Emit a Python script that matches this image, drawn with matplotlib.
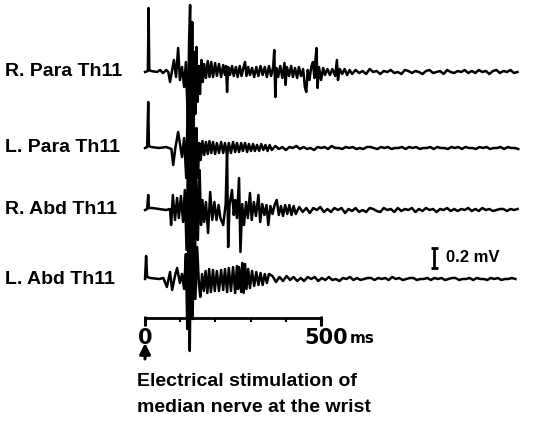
import numpy as np
import matplotlib
matplotlib.use('Agg')
import matplotlib.pyplot as plt

plt.rcParams['font.family'] = ['Liberation Sans', 'DejaVu Sans']

# ---------------- data (time in ms, amplitude in mV relative to baseline) -------------
labels = ['R. Para Th11', 'L. Para Th11', 'R. Abd Th11', 'L. Abd Th11']
baselines = [3.53, 2.77, 2.15, 1.46]   # vertical offsets of the traces (mV)

rp_t = [0, 8, 10, 12, 17, 34, 43, 51, 60, 66, 71, 77, 82, 88, 94, 99, 105, 111, 116, 122,
        125, 128, 131, 134, 137, 140, 143, 146, 149, 153, 156, 160, 164, 168, 173, 178, 183,
        188, 193, 199, 204, 210, 216, 222, 227, 230, 233, 236, 241, 247, 252, 258, 263, 269,
        274, 280, 284, 288, 293, 298, 304, 310, 316, 322, 328, 334, 340, 346, 352, 358, 364,
        367, 370, 373, 378, 384, 390, 396, 399, 403, 409, 415, 420, 426, 432, 437, 443, 449,
        454, 458, 462, 467, 472, 477, 481, 484, 487, 490, 494, 500, 506, 511, 518, 525, 532,
        540, 545, 548, 553, 560, 567, 574, 581, 588]
rp_v = [0.00, 0.01, 0.64, 0.02, 0.01, 0.00, 0.02, -0.01, 0.02, 0.00, -0.10, 0.02, 0.12, -0.05,
        0.24, -0.08, 0.05, -0.15, 0.10, -0.55, 0.30, 0.67, -0.45, 0.50, -0.58, 0.20, -0.42,
        0.25, -0.30, 0.06, -0.22, 0.12, -0.10, 0.08, -0.06, 0.11, -0.05, 0.10, -0.05, 0.09,
        -0.04, 0.08, -0.05, 0.07, -0.03, 0.06, -0.20, 0.05, -0.03, 0.06, -0.04, 0.05, -0.05,
        0.06, -0.04, 0.05, 0.10, -0.04, 0.05, -0.03, 0.04, -0.05, 0.05, -0.04, 0.06, -0.03,
        0.05, -0.05, 0.06, -0.04, 0.05, 0.22, -0.25, 0.04, -0.05, 0.06, -0.06, 0.09, -0.13,
        0.05, -0.04, 0.06, -0.05, 0.04, -0.06, 0.05, -0.04, 0.03, -0.15, -0.20, 0.02, -0.08,
        0.05, 0.10, -0.06, 0.12, 0.24, -0.16, 0.05, -0.08, 0.04, -0.03, 0.03, -0.03, 0.03,
        -0.04, 0.12, -0.08, 0.03, -0.02, 0.03, -0.03, 0.02, -0.02]
rp_tail = [0.02, -0.01, 0.01, -0.02, 0.03, 0.00, 0.01, -0.02, 0.01, 0.00,
           0.02, -0.01, 0.00, -0.02, 0.02, 0.01, -0.01, 0.01, 0.00, -0.02,
           0.01, 0.02, -0.01, 0.00, 0.01, -0.02, 0.02, 0.00, -0.01, 0.01,
           0.00, 0.02, -0.01, 0.01, -0.01, 0.02, 0.00, 0.01, -0.02, 0.01,
           0.02, -0.01, 0.01, 0.00, 0.02, -0.01, 0.00]

lp_t = [0, 6, 9, 11, 17, 40, 60, 75, 80, 86, 94, 100, 105, 111, 117, 122, 126, 130, 134, 138,
        142, 146, 150, 154, 158, 163, 168, 173, 178, 183, 188, 193, 199, 204, 210, 216, 222,
        227, 233, 238, 244, 250, 256, 261, 267, 273, 278, 284, 290, 295, 301, 307, 312, 318,
        324, 330, 336, 342, 348, 354, 360]
lp_v = [0.00, 0.01, 0.46, 0.02, 0.01, 0.00, 0.01, -0.01, -0.17, 0.00, 0.16, 0.02, -0.09, 0.10,
        -0.30, 0.55, -0.70, 0.60, -0.55, 0.35, -0.50, 0.20, -0.30, 0.05, -0.12, 0.07, -0.07,
        0.06, -0.06, 0.07, -0.05, 0.06, -0.06, 0.05, -0.05, 0.06, -0.05, 0.05, -0.06, 0.05,
        -0.05, 0.06, -0.04, 0.05, -0.04, 0.05, -0.03, 0.05, -0.04, 0.04, -0.03, 0.04, -0.03,
        0.03, -0.03, 0.04, -0.02, 0.03, -0.03, 0.03, -0.02]
lp_tail = [0.02, -0.01, 0.01, -0.02, 0.01, 0.00, 0.02, -0.01, 0.01, -0.01,
           0.00, -0.02, 0.01, 0.00, 0.01, -0.01, 0.02, 0.00, 0.00, -0.01,
           0.01, 0.00, 0.01, -0.01, 0.00, -0.01, 0.01, 0.01, 0.00, -0.01,
           0.01, 0.00, 0.01, -0.01, 0.00, 0.00, 0.01, -0.01, 0.01, 0.00,
           0.01, -0.01, 0.00, 0.00, 0.01, -0.01, 0.01, 0.00, 0.00, -0.01,
           0.01, 0.00, 0.01, -0.01, 0.01, 0.00, 0.00, -0.01, 0.01, 0.00,
           0.01, -0.01, 0.00, 0.00, 0.01, -0.01, 0.01, 0.00, 0.00, -0.01]

ra_t = [0, 6, 9, 11, 20, 40, 60, 71, 74, 79, 85, 91, 96, 102, 108, 113, 118, 122, 126, 130,
        134, 138, 142, 146, 150, 155, 159, 163, 168, 173, 179, 185, 191, 197, 203, 209, 214,
        222, 229, 233, 236, 240, 247, 252, 256, 261, 267, 271, 276, 281, 287, 292, 298, 303,
        309, 315, 322, 327, 333, 339, 345, 350, 356, 362, 368, 374, 380, 386, 392, 398, 404,
        410, 416, 422, 428]
ra_v = [0.00, 0.01, 0.15, 0.02, 0.02, 0.01, 0.00, 0.01, -0.15, 0.15, -0.10, 0.12, -0.08, 0.14,
        -0.12, 0.20, -0.40, 0.55, -0.65, 0.75, -0.62, 0.50, -0.45, 0.30, -0.30, 0.40, -0.15,
        0.10, -0.12, 0.08, -0.23, 0.18, -0.10, 0.08, -0.10, 0.05, -0.08, -0.15, 0.06, 0.60,
        -0.37, 0.05, 0.20, -0.05, 0.10, -0.08, 0.32, -0.42, 0.06, -0.15, 0.08, -0.08, 0.17,
        -0.10, 0.08, -0.06, 0.15, -0.12, 0.06, -0.05, 0.05, -0.15, 0.04, -0.04, 0.05, 0.10,
        -0.05, 0.04, -0.06, 0.05, -0.04, 0.05, -0.05, 0.04, -0.04]
ra_tail = [0.03, -0.02, 0.02, -0.03, 0.02, 0.00, 0.03, -0.02, 0.01, -0.02,
           0.02, 0.00, 0.02, -0.03, 0.01, -0.01, 0.02, -0.02, 0.00, -0.02,
           0.02, 0.01, -0.01, -0.02, 0.02, 0.00, 0.01, -0.02, 0.02, -0.01,
           0.01, 0.00, 0.02, -0.02, 0.01, -0.01, 0.02, 0.00, 0.01, -0.02,
           0.01, 0.00, 0.02, -0.01, 0.01, -0.01, 0.01, 0.00, 0.02, -0.01,
           0.01, -0.01, 0.02, 0.00, 0.01, -0.01, 0.00, 0.01, 0.01, -0.01,
           0.01, 0.00, 0.01]

la_t = [0, 3, 6, 15, 40, 52, 62, 71, 77, 85, 91, 99, 105, 111, 116, 120, 124, 127, 131, 135,
        139, 143, 148, 153, 157, 162, 167, 172, 177, 182, 187, 193, 198, 204, 210, 216, 222,
        227, 233, 238, 244, 250, 256, 261, 264, 267, 273, 276, 280, 284, 288, 293, 298, 304,
        310, 316, 322, 328, 334, 340, 346, 352]
la_v = [0.00, 0.23, 0.02, 0.01, 0.00, 0.01, -0.08, 0.07, -0.11, 0.03, 0.11, -0.04, 0.05, -0.10,
        0.25, -0.50, 0.45, -0.72, 0.60, -0.40, 0.35, -0.20, 0.32, -0.05, -0.18, 0.05, -0.12,
        0.08, -0.14, 0.10, -0.13, 0.09, -0.12, 0.08, -0.12, 0.09, -0.11, 0.10, -0.13, 0.11,
        -0.12, 0.12, -0.14, 0.13, -0.10, 0.12, -0.13, 0.16, -0.14, 0.15, -0.10, 0.10, -0.09,
        0.08, -0.07, 0.07, -0.06, 0.06, -0.06, 0.05, -0.04, 0.05]
la_tail = [0.03, -0.03, 0.02, -0.02, 0.03, -0.01, 0.02, -0.02, 0.01, -0.02,
           0.02, 0.00, 0.02, -0.02, 0.01, -0.01, 0.02, -0.01, 0.00, -0.02,
           0.01, 0.00, 0.02, -0.01, 0.01, -0.01, 0.00, 0.01, 0.01, -0.01,
           0.01, 0.00, 0.01, -0.01, 0.02, 0.00, 0.01, -0.01, 0.00, 0.01,
           0.01, -0.01, 0.00, 0.00, 0.01, -0.01, 0.01, 0.00, 0.01, -0.01,
           0.00, 0.01, 0.01, -0.01, 0.00, 0.00, 0.01, -0.01, 0.01, 0.00,
           0.00, -0.01, 0.01, 0.00, 0.01, -0.01, 0.00, 0.00, 0.01, 0.00]

tail_step_ms = 10
time_ticks = [0, 100, 200, 300, 400, 500]
scale_mv = 0.2

# ---------------- figure -------------
fig = plt.figure(figsize=(5.39, 4.25), dpi=100)
ax = fig.add_axes([0, 0, 1, 1])
ax.set_xlim(-412, 1119)
ax.set_ylim(0, 4.25)
ax.axis('off')

traces = [(rp_t, rp_v, rp_tail), (lp_t, lp_v, lp_tail),
          (ra_t, ra_v, ra_tail), (la_t, la_v, la_tail)]

for (th, vh, vt), base, lab in zip(traces, baselines, labels):
    t_tail = th[-1] + tail_step_ms * np.arange(1, len(vt) + 1)
    t = np.concatenate([th, t_tail])
    v = np.concatenate([vh, vt])
    ax.plot(t, base + v, color='black', lw=1.8, solid_joinstyle='round')
    ax.text(-398, base, lab, ha='left', va='center', fontsize=14, fontweight='bold')

# time scale
ax_y = 1.07
ax.plot([time_ticks[0], time_ticks[-1]], [ax_y, ax_y], color='black', lw=2)
ax.vlines(time_ticks[1:-1], ax_y - 0.035, ax_y, color='black', lw=1.5)
ax.vlines([time_ticks[0], time_ticks[-1]], ax_y - 0.08, ax_y + 0.02, color='black', lw=2.2)
num_font = dict(family=['DejaVu Sans'], fontsize=15, fontweight='bold')
ax.text(time_ticks[0], 0.87, '0', ha='center', va='center', **num_font)
ax.text(577, 0.87, '500', ha='right', va='center', **num_font)
ax.text(581, 0.865, 'ms', ha='left', va='center', family=['DejaVu Sans'],
        fontsize=11, fontweight='bold')

# stimulation arrow and caption
ax.annotate('', xy=(0, 0.82), xytext=(0, 0.66),
            arrowprops=dict(arrowstyle='-|>', color='black', lw=2.2, mutation_scale=16,
                            shrinkA=0, shrinkB=0))
ax.text(-23, 0.43, 'Electrical stimulation of', ha='left', va='center',
        fontsize=14, fontweight='bold')
ax.text(-23, 0.18, 'median nerve at the wrist', ha='left', va='center',
        fontsize=14, fontweight='bold')

# amplitude scale bar
sb_x, sb_y0 = 821, 1.57
ax.vlines(sb_x, sb_y0, sb_y0 + scale_mv, color='black', lw=2)
ax.hlines([sb_y0, sb_y0 + scale_mv], sb_x - 10, sb_x + 10, color='black', lw=2)
ax.text(855, sb_y0 + scale_mv / 2, '0.2 mV', ha='left', va='center',
        fontsize=12, fontweight='bold')

fig.savefig('out.png', dpi=100)
